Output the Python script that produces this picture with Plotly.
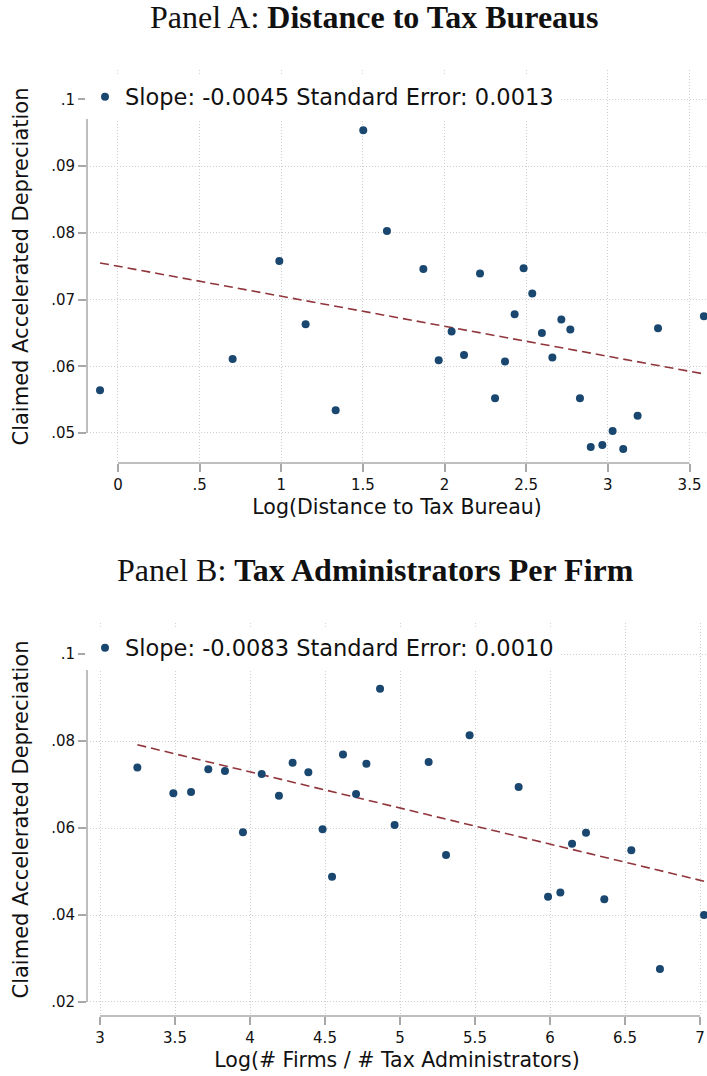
import plotly.graph_objects as go

# ---------------- data ----------------
# Panel A: Log(Distance to Tax Bureau) vs Claimed Accelerated Depreciation
dist_x = [-0.11, 0.702, 0.988, 1.149, 1.333, 1.502, 1.647, 1.870, 1.964, 2.043,
          2.119, 2.217, 2.309, 2.370, 2.429, 2.484, 2.537, 2.596, 2.660, 2.715,
          2.770, 2.829, 2.895, 2.966, 3.029, 3.094, 3.182, 3.307, 3.588]
dist_y = [0.0564, 0.0611, 0.0758, 0.0663, 0.0534, 0.0954, 0.0803, 0.0746, 0.0609, 0.0652,
          0.0617, 0.0739, 0.0552, 0.0607, 0.0678, 0.0747, 0.0709, 0.0650, 0.0613, 0.0670,
          0.0655, 0.0552, 0.0479, 0.0482, 0.0503, 0.0476, 0.0526, 0.0657, 0.0675]
fit_a_intercept = 0.0750
fit_a_slope = -0.0045
label_a = "Slope: -0.0045 Standard Error: 0.0013"

# Panel B: Log(# Firms / # Tax Administrators)
admin_x = [3.249, 3.489, 3.607, 3.722, 3.833, 3.953, 4.078, 4.193, 4.284, 4.389,
           4.484, 4.547, 4.620, 4.707, 4.776, 4.867, 4.964, 5.191, 5.307, 5.464,
           5.791, 5.987, 6.069, 6.147, 6.240, 6.362, 6.542, 6.733, 7.027]
admin_y = [0.0739, 0.0680, 0.0683, 0.0735, 0.0731, 0.0590, 0.0724, 0.0674, 0.0750, 0.0728,
           0.0597, 0.0488, 0.0769, 0.0678, 0.0748, 0.0920, 0.0607, 0.0752, 0.0538, 0.0813,
           0.0694, 0.0442, 0.0452, 0.0564, 0.0589, 0.0436, 0.0549, 0.0276, 0.0400]
fit_b_intercept = 0.1061
fit_b_slope = -0.0083
label_b = "Slope: -0.0083 Standard Error: 0.0010"

# tick labels
xa_ticks = [0, 0.5, 1, 1.5, 2, 2.5, 3, 3.5]
xa_text = ["0", ".5", "1", "1.5", "2", "2.5", "3", "3.5"]
ya_ticks = [0.05, 0.06, 0.07, 0.08, 0.09, 0.10]
ya_text = [".05", ".06", ".07", ".08", ".09", ".1"]
xb_ticks = [3, 3.5, 4, 4.5, 5, 5.5, 6, 6.5, 7]
xb_text = ["3", "3.5", "4", "4.5", "5", "5.5", "6", "6.5", "7"]
yb_ticks = [0.02, 0.04, 0.06, 0.08, 0.10]
yb_text = [".02", ".04", ".06", ".08", ".1"]

title_a = "Panel A: <b>Distance to Tax Bureaus</b>"
title_b = "Panel B: <b>Tax Administrators Per Firm</b>"
xtitle_a = "Log(Distance to Tax Bureau)"
xtitle_b = "Log(# Firms / # Tax Administrators)"
ytitle = "Claimed Accelerated Depreciation"

# ---------------- style ----------------
W, H = 707, 1076
NAVY = "#1a476f"
MAROON = "#90353b"
AXIS = "#a8a8a8"
GRID = "#cfcfcf"
SANS = "DejaVu Sans"
SERIF = "Liberation Serif"
TXT = "#111111"


def py(p):
    return 1 - p / H


fig = go.Figure()

# fitted lines
xa_fit = [min(dist_x), max(dist_x)]
fig.add_trace(go.Scatter(x=xa_fit, y=[fit_a_intercept + fit_a_slope * v for v in xa_fit],
                         mode="lines", line=dict(color=MAROON, width=1.6, dash="9px,5px"),
                         showlegend=False, xaxis="x", yaxis="y"))
xb_fit = [min(admin_x), max(admin_x)]
fig.add_trace(go.Scatter(x=xb_fit, y=[fit_b_intercept + fit_b_slope * v for v in xb_fit],
                         mode="lines", line=dict(color=MAROON, width=1.6, dash="9px,5px"),
                         showlegend=False, xaxis="x2", yaxis="y2"))

# scatters
fig.add_trace(go.Scatter(x=dist_x, y=dist_y, mode="markers", name=label_a,
                         marker=dict(color=NAVY, size=8, line=dict(width=0)),
                         xaxis="x", yaxis="y", legend="legend"))
fig.add_trace(go.Scatter(x=admin_x, y=admin_y, mode="markers", name=label_b,
                         marker=dict(color=NAVY, size=8, line=dict(width=0)),
                         xaxis="x2", yaxis="y2", legend="legend2"))

common_axis = dict(showline=False, zeroline=False, ticks="outside", ticklen=8,
                   tickwidth=1.5, tickcolor=AXIS, showgrid=True, gridcolor=GRID,
                   griddash="1px,2px", gridwidth=1,
                   tickfont=dict(family=SANS, size=15, color=TXT))

xdom = [87 / W, 1]
fig.update_layout(
    width=W, height=H, margin=dict(l=0, r=0, t=0, b=0),
    paper_bgcolor="white", plot_bgcolor="white",
    xaxis=dict(domain=xdom, range=[-0.1898, 3.607], tickvals=xa_ticks, ticktext=xa_text,
               anchor="y",
               title=dict(text=xtitle_a, font=dict(family=SANS, size=20.5, color=TXT),
                          standoff=6),
               **common_axis),
    yaxis=dict(domain=[py(463), py(70)], range=[0.0455, 0.10442], tickvals=ya_ticks,
               ticktext=ya_text, anchor="x",
               title=dict(text=ytitle, font=dict(family=SANS, size=21, color=TXT),
                          standoff=16),
               **common_axis),
    xaxis2=dict(domain=xdom, range=[2.9133, 7.0467], tickvals=xb_ticks, ticktext=xb_text,
                anchor="y2",
                title=dict(text=xtitle_b, font=dict(family=SANS, size=20.5, color=TXT),
                           standoff=6),
                **common_axis),
    yaxis2=dict(domain=[py(1016), py(623)], range=[0.01678, 0.10713], tickvals=yb_ticks,
                ticktext=yb_text, anchor="x2",
                title=dict(text=ytitle, font=dict(family=SANS, size=21, color=TXT),
                           standoff=16),
                **common_axis),
    legend=dict(x=85 / W, y=py(97), xanchor="left", yanchor="middle", bgcolor="white",
                borderwidth=0, font=dict(family=SANS, size=22.5, color=TXT),
                itemwidth=30),
    legend2=dict(x=85 / W, y=py(648), xanchor="left", yanchor="middle", bgcolor="white",
                 borderwidth=0, font=dict(family=SANS, size=22.5, color=TXT),
                 itemwidth=30),
    annotations=[
        dict(text=title_a, x=374 / W, y=py(17), xref="paper", yref="paper",
             showarrow=False, xanchor="center", yanchor="middle",
             font=dict(family=SERIF, size=32, color=TXT)),
        dict(text=title_b, x=375 / W, y=py(570), xref="paper", yref="paper",
             showarrow=False, xanchor="center", yanchor="middle",
             font=dict(family=SERIF, size=32, color=TXT)),
    ],
    shapes=[
        # Stata-style axis lines spanning only the labelled range
        dict(type="line", xref="x domain", yref="y", x0=0, x1=0,
             y0=min(ya_ticks), y1=max(ya_ticks), line=dict(color=AXIS, width=1.5)),
        dict(type="line", xref="x", yref="y domain", x0=min(xa_ticks), x1=max(xa_ticks),
             y0=0, y1=0, line=dict(color=AXIS, width=1.5)),
        dict(type="line", xref="x2 domain", yref="y2", x0=0, x1=0,
             y0=min(yb_ticks), y1=max(yb_ticks), line=dict(color=AXIS, width=1.5)),
        dict(type="line", xref="x2", yref="y2 domain", x0=min(xb_ticks), x1=max(xb_ticks),
             y0=0, y1=0, line=dict(color=AXIS, width=1.5)),
    ],
)

fig.write_html("out.html",
               config={"displayModeBar": False},
               post_script="document.body.style.margin='0';"
                           "document.body.style.overflow='hidden';")
